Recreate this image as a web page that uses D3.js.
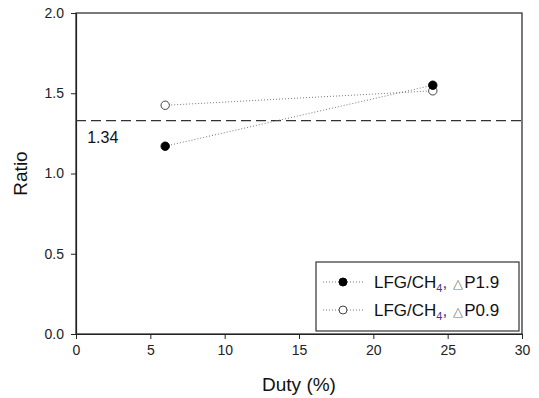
<!DOCTYPE html>
<html>
<head>
<meta charset="utf-8">
<script src="https://cdn.jsdelivr.net/npm/d3@7"></script>
<style>
  body { margin: 0; background: #fff; }
  svg { display: block; font-family: "Liberation Sans", Arial, sans-serif; }
</style>
</head>
<body>
<svg id="chart" width="539" height="398"></svg>
<script>
// ---- data ----
const duty = [6, 24];
const seriesLabels = [
  { pre: "LFG/CH", sub: "4", sep: ",", tri: "\u25B3", post: "P1.9" },
  { pre: "LFG/CH", sub: "4", sep: ",", tri: "\u25B3", post: "P0.9" }
];
const ratioP19 = [1.17, 1.55];
const ratioP09 = [1.425, 1.515];
const refValue = 1.33;
const refLabel = "1.34";
const xTicks = [0, 5, 10, 15, 20, 25, 30];
const yTicks = [0, 0.5, 1.0, 1.5, 2.0];

// ---- layout ----
const svg = d3.select("#chart");
const L = 76, R = 522, T = 13, B = 334;
const x = d3.scaleLinear().domain([0, 30]).range([L, R]);
const y = d3.scaleLinear().domain([0, 2]).range([B, T]);
const axisColor = "#222";

// frame
svg.append("rect").attr("x", L).attr("y", T).attr("width", R - L).attr("height", B - T)
  .attr("fill", "none").attr("stroke", axisColor).attr("stroke-width", 1.2);

// axes
const xAxis = svg.append("g").attr("transform", `translate(0,${B})`)
  .call(d3.axisBottom(x).tickValues(xTicks).tickFormat(d3.format("d")).tickSizeOuter(0).tickSizeInner(5).tickPadding(6));
const yAxis = svg.append("g").attr("transform", `translate(${L},0)`)
  .call(d3.axisLeft(y).tickValues(yTicks).tickFormat(d3.format(".1f")).tickSizeOuter(0).tickSizeInner(5).tickPadding(7));
[xAxis, yAxis].forEach(g => {
  g.select(".domain").attr("stroke", axisColor).attr("stroke-width", 1.2);
  g.selectAll(".tick line").attr("stroke", axisColor);
  g.selectAll(".tick text").attr("fill", "#222").style("font-size", "14px")
    .style("font-family", "'Liberation Sans', Arial, sans-serif");
});

// axis titles
svg.append("text").attr("x", (L + R) / 2).attr("y", 391).attr("text-anchor", "middle")
  .style("font-size", "19px").attr("fill", "#111").text("Duty (%)");
svg.append("text").attr("transform", `translate(27,${(T + B) / 2}) rotate(-90)`)
  .attr("text-anchor", "middle").style("font-size", "19px").attr("fill", "#111").text("Ratio");

// reference line
svg.append("line").attr("x1", L).attr("x2", R).attr("y1", y(refValue)).attr("y2", y(refValue))
  .attr("stroke", "#333").attr("stroke-width", 1.2).attr("stroke-dasharray", "10,5");
svg.append("text").attr("x", x(0.75)).attr("y", y(refValue) + 22)
  .style("font-size", "16px").attr("fill", "#111").text(refLabel);

// series
const series = [
  { label: seriesLabels[0], values: ratioP19, fill: "#000" },
  { label: seriesLabels[1], values: ratioP09, fill: "#fff" }
];
const line = d3.line().x((d, i) => x(duty[i])).y(d => y(d));
series.forEach(s => {
  svg.append("path").datum(s.values).attr("d", line).attr("fill", "none")
    .attr("stroke", "#777").attr("stroke-width", 1).attr("stroke-dasharray", "1,2");
});
series.slice().reverse().forEach(s => {
  svg.selectAll(null).data(s.values).enter().append("circle")
    .attr("cx", (d, i) => x(duty[i])).attr("cy", d => y(d)).attr("r", 4.2)
    .attr("fill", s.fill).attr("stroke", s.fill === "#000" ? "#000" : "#444").attr("stroke-width", 1);
});

// legend
const lg = svg.append("g");
lg.append("rect").attr("x", 316).attr("y", 262).attr("width", 203).attr("height", 69)
  .attr("fill", "#fff").attr("stroke", "#333").attr("stroke-width", 1.2);
series.forEach((s, i) => {
  const cy = 282 + i * 28;
  lg.append("line").attr("x1", 323).attr("x2", 363).attr("y1", cy).attr("y2", cy)
    .attr("stroke", "#777").attr("stroke-width", 1).attr("stroke-dasharray", "1,2");
  lg.append("circle").attr("cx", 343).attr("cy", cy).attr("r", 4)
    .attr("fill", s.fill).attr("stroke", s.fill === "#000" ? "#000" : "#444");
  const lb = s.label;
  const t = lg.append("text").attr("x", 374).attr("y", cy + 6).style("font-size", "17px").attr("fill", "#111");
  t.append("tspan").text(lb.pre);
  t.append("tspan").attr("dy", 4).style("font-size", "11px").attr("fill", "#3b3b8c").text(lb.sub);
  t.append("tspan").attr("dy", -4).attr("dx", 0).attr("fill", "#3b3b8c").text(lb.sep);
  t.append("tspan").attr("dx", 6).style("font-size", "13px").attr("fill", "#777").text(lb.tri);
  t.append("tspan").attr("dx", 1).text(lb.post);
});
</script>
</body>
</html>
